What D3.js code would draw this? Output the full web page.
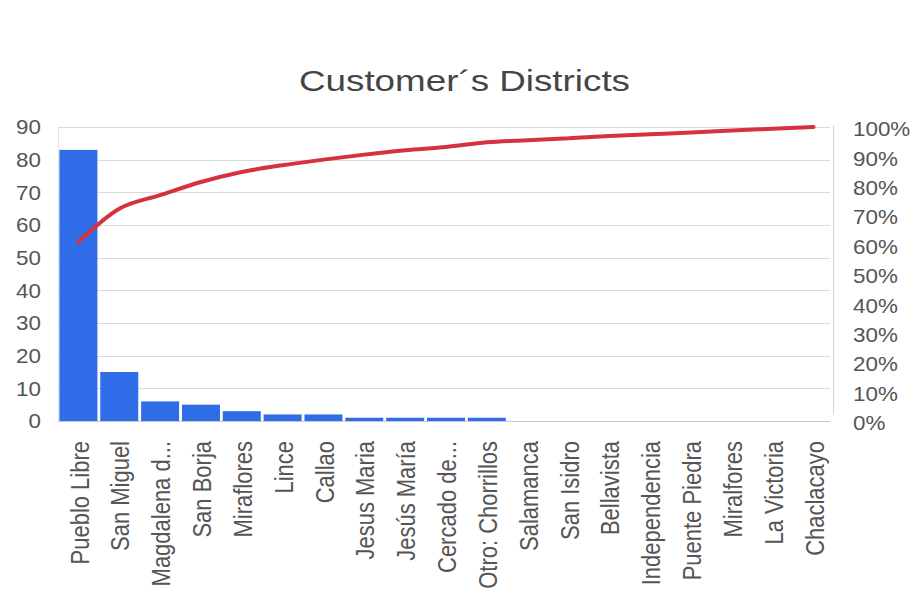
<!DOCTYPE html>
<html>
<head>
<meta charset="utf-8">
<script src="https://cdn.jsdelivr.net/npm/d3@7/dist/d3.min.js"></script>
<style>
  html, body { margin: 0; padding: 0; background: #ffffff; }
  svg { display: block; font-family: "Liberation Sans", Arial, sans-serif; }
</style>
</head>
<body>
<svg id="chart" width="915" height="603"></svg>
<script>
// Districts, sorted by number of customers
const districts = [
  "Pueblo Libre", "San Miguel", "Magdalena d...", "San Borja", "Miraflores",
  "Lince", "Callao", "Jesus Maria", "Jesús María", "Cercado de...",
  "Otro: Chorrillos", "Salamanca", "San Isidro", "Bellavista", "Independencia",
  "Puente Piedra", "Miralfores", "La Victoria", "Chaclacayo"
];
// Customers per district (bars, left axis)
const customers = [83, 15, 6, 5, 3, 2, 2, 1, 1, 1, 1, 0, 0, 0, 0, 0, 0, 0, 0];
// Cumulative share of customers (line, right axis)
const cumulativePct = [60.9, 72.2, 76.8, 81.3, 84.7, 87.0, 88.9, 90.6, 92.1, 93.2,
                       94.8, 95.5, 96.2, 96.9, 97.5, 98.1, 98.8, 99.4, 100];
const leftTicks = [0, 10, 20, 30, 40, 50, 60, 70, 80, 90];
const rightTicks = [0, 10, 20, 30, 40, 50, 60, 70, 80, 90, 100];
const chartTitle = "Customer\u00B4s Districts";

const svg = d3.select("#chart");
const plot = { left: 58, right: 834, top: 127, bottom: 421 };
const stretch = 1.12; // horizontal widening of the label glyphs

const x = d3.scaleBand()
  .domain(d3.range(districts.length))
  .range([plot.left, plot.right])
  .paddingInner(0.07)
  .paddingOuter(0.035);
const yLeft = d3.scaleLinear().domain([0, 90]).range([plot.bottom, plot.top]);
const yRight = d3.scaleLinear().domain([0, 100]).range([plot.bottom, plot.top]);

// title
svg.append("text")
  .attr("x", 299).attr("y", 91)
  .attr("font-size", 30)
  .attr("fill", "#454545")
  .attr("textLength", 331)
  .attr("lengthAdjust", "spacingAndGlyphs")
  .text(chartTitle);

// horizontal gridlines
svg.append("g")
  .selectAll("line")
  .data(leftTicks)
  .join("line")
  .attr("x1", plot.left).attr("x2", plot.right - 4)
  .attr("y1", d => Math.round(yLeft(d)) + 0.5)
  .attr("y2", d => Math.round(yLeft(d)) + 0.5)
  .attr("stroke", d => d === 0 ? "#c8c8c8" : "#dadada")
  .attr("stroke-width", 1);

// plot frame sides
svg.append("line")
  .attr("x1", plot.left + 0.5).attr("x2", plot.left + 0.5)
  .attr("y1", plot.top).attr("y2", plot.bottom)
  .attr("stroke", "#e4e4e4");
svg.append("line")
  .attr("x1", 833.5).attr("x2", 833.5)
  .attr("y1", plot.top - 2).attr("y2", plot.bottom - 6)
  .attr("stroke", "#d4d4d4");

// bars
svg.append("g")
  .selectAll("rect")
  .data(customers)
  .join("rect")
  .attr("x", (d, i) => x(i))
  .attr("width", x.bandwidth())
  .attr("y", d => yLeft(d))
  .attr("height", d => plot.bottom - yLeft(d))
  .attr("fill", "#2e6de7");

// cumulative line
const line = d3.line()
  .x((d, i) => x(i) + x.bandwidth() / 2)
  .y(d => yRight(d))
  .curve(d3.curveMonotoneX);
svg.append("path")
  .datum(cumulativePct)
  .attr("d", line)
  .attr("fill", "none")
  .attr("stroke", "#d6323e")
  .attr("stroke-width", 4)
  .attr("stroke-linejoin", "round")
  .attr("stroke-linecap", "round");

// left axis labels
svg.append("g")
  .selectAll("text")
  .data(leftTicks)
  .join("text")
  .attr("transform", d => `translate(41,${yLeft(d)}) scale(${stretch},1)`)
  .attr("dy", "0.36em")
  .attr("text-anchor", "end")
  .attr("font-size", 20)
  .attr("fill", "#555")
  .text(d => d);

// right axis labels
svg.append("g")
  .selectAll("text")
  .data(rightTicks)
  .join("text")
  .attr("transform", d => `translate(853,${yRight(d) + 2}) scale(${stretch},1)`)
  .attr("dy", "0.36em")
  .attr("text-anchor", "start")
  .attr("font-size", 20)
  .attr("fill", "#555")
  .text(d => d + "%");

// category labels, rotated
svg.append("g")
  .selectAll("text")
  .data(districts)
  .join("text")
  .attr("transform", (d, i) =>
    `translate(${x(i) + x.bandwidth() / 2 + 1},441) scale(1.15,1) rotate(-90)`)
  .attr("dy", "0.36em")
  .attr("text-anchor", "end")
  .attr("font-size", 22)
  .attr("fill", "#555")
  .text(d => d);
</script>
</body>
</html>
